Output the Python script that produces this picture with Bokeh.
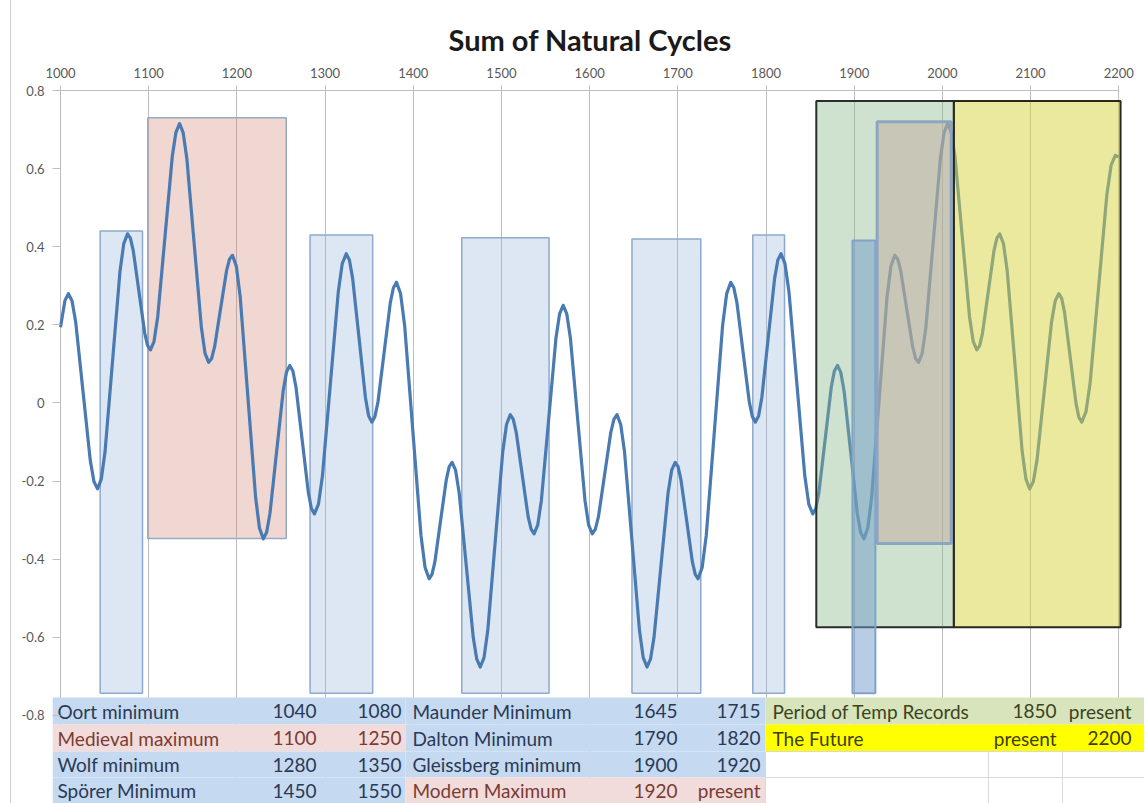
from bokeh.plotting import figure
from bokeh.models import FixedTicker, Range1d
from bokeh.embed import file_html
from bokeh.resources import INLINE
from bokeh.core.properties import value

# ---------------- data ----------------
years = [1000, 1005, 1009, 1013.1, 1017.25, 1025.5, 1033.75, 1037.9, 1042, 1046.25, 1050.5,
         1059, 1067.5, 1071.75, 1076, 1079.25, 1082.5, 1089, 1095.5, 1098.75, 1102, 1106.1,
         1110.25, 1118.5, 1126.75, 1130.9, 1135, 1139.1, 1143.25, 1151.5, 1159.75, 1163.9,
         1168, 1171.4, 1174.75, 1181.5, 1188.25, 1191.6, 1195, 1199.4, 1203.75, 1212.5,
         1221.25, 1225.6, 1230, 1233.75, 1237.5, 1245, 1252.5, 1256.25, 1260, 1263.5, 1267,
         1274, 1281, 1284.5, 1288, 1292.5, 1297, 1306, 1315, 1319.5, 1324, 1327.6, 1331.25,
         1338.5, 1345.75, 1349.4, 1353, 1356.5, 1360, 1367, 1374, 1377.5, 1381, 1385.6,
         1390.25, 1399.5, 1408.75, 1413.4, 1418, 1421.25, 1424.5, 1431, 1437.5, 1440.75,
         1444, 1448, 1452, 1460, 1468, 1472, 1476, 1480.25, 1484.5, 1493, 1501.5, 1505.75,
         1510, 1513.4, 1516.75, 1523.5, 1530.25, 1533.6, 1537, 1541.1, 1545.25, 1553.5,
         1561.75, 1565.9, 1570, 1574.1, 1578.25, 1586.5, 1594.75, 1598.9, 1603, 1606.5,
         1610, 1617, 1624, 1627.5, 1631, 1635.25, 1639.5, 1648, 1656.5, 1660.75, 1665, 1669,
         1673, 1681, 1689, 1693, 1697, 1700.25, 1703.5, 1710, 1716.5, 1719.75, 1723, 1727.6,
         1732.25, 1741.5, 1750.75, 1755.4, 1760, 1763.5, 1767, 1774, 1781, 1784.5, 1788,
         1791.6, 1795.25, 1802.5, 1809.75, 1813.4, 1817, 1821.5, 1826, 1835, 1844, 1848.5,
         1853, 1856.5, 1860, 1867, 1874, 1877.5, 1881, 1884.75, 1888.5, 1896, 1903.5,
         1907.25, 1911, 1915.4, 1919.75, 1928.5, 1937.25, 1941.6, 1946, 1949.4, 1952.75,
         1959.5, 1966.25, 1969.6, 1973, 1977.1, 1981.25, 1989.5, 1997.75, 2001.9, 2006,
         2010.1, 2014.25, 2022.5, 2030.75, 2034.9, 2039, 2042.25, 2045.5, 2052, 2058.5,
         2061.75, 2065, 2069.25, 2073.5, 2082, 2090.5, 2094.75, 2099, 2103.1, 2107.25,
         2115.5, 2123.75, 2127.9, 2132, 2135.25, 2138.5, 2145, 2151.5, 2154.75, 2158,
         2162.75, 2167.5, 2177, 2186.5, 2191.25, 2196, 2200]
cycle_sum = [0.194, 0.262, 0.28, 0.261, 0.207, 0.03, -0.147, -0.201, -0.22, -0.195, -0.125,
             0.107, 0.338, 0.408, 0.433, 0.422, 0.39, 0.285, 0.179, 0.147, 0.136, 0.158,
             0.221, 0.426, 0.631, 0.693, 0.715, 0.692, 0.626, 0.41, 0.193, 0.127,
             0.104, 0.114, 0.144, 0.241, 0.338, 0.368, 0.378, 0.35, 0.272, 0.015,
             -0.242, -0.32, -0.348, -0.331, -0.283, -0.126, 0.031, 0.079, 0.096, 0.082, 0.041,
             -0.094, -0.229, -0.27, -0.284, -0.259, -0.187, 0.049, 0.285, 0.357, 0.382, 0.366, 0.319,
             0.167, 0.014, -0.033, -0.049, -0.035, 0.003, 0.13, 0.257, 0.295, 0.309, 0.28,
             0.198, -0.071, -0.339, -0.421, -0.45, -0.439, -0.407, -0.301, -0.196, -0.163,
             -0.152, -0.172, -0.229, -0.414, -0.6, -0.656, -0.676, -0.652, -0.582, -0.353, -0.124, -0.055,
             -0.03, -0.042, -0.075, -0.183, -0.291, -0.323, -0.335, -0.313, -0.25, -0.043,
             0.165, 0.228, 0.25, 0.228, 0.165, -0.043, -0.25, -0.313, -0.335, -0.323,
             -0.291, -0.183, -0.075, -0.042, -0.03, -0.055, -0.124, -0.353, -0.582, -0.652, -0.676, -0.656,
             -0.6, -0.414, -0.229, -0.172, -0.152, -0.163, -0.196, -0.301, -0.407, -0.439, -0.45, -0.421,
             -0.339, -0.071, 0.198, 0.28, 0.309, 0.295, 0.257, 0.13, 0.003, -0.035, -0.049,
             -0.033, 0.014, 0.167, 0.319, 0.366, 0.382, 0.357, 0.285, 0.049, -0.187, -0.259,
             -0.284, -0.27, -0.229, -0.094, 0.041, 0.082, 0.096, 0.079, 0.031, -0.126, -0.283,
             -0.331, -0.348, -0.32, -0.242, 0.015, 0.272, 0.35, 0.378, 0.368, 0.338,
             0.241, 0.144, 0.114, 0.104, 0.127, 0.193, 0.41, 0.626, 0.692, 0.715,
             0.693, 0.631, 0.426, 0.221, 0.158, 0.136, 0.147, 0.179, 0.285, 0.39,
             0.422, 0.433, 0.408, 0.338, 0.107, -0.125, -0.195, -0.22, -0.201, -0.147,
             0.03, 0.207, 0.261, 0.28, 0.268, 0.232, 0.116, -0.001, -0.037, -0.049,
             -0.023, 0.051, 0.293, 0.534, 0.608, 0.634, 0.63]

# shaded periods as drawn in the picture
box_names = ["Oort minimum", "Medieval maximum", "Wolf minimum", "Spörer Minimum",
             "Maunder Minimum", "Dalton Minimum", "Period of Temp Records",
             "Gleissberg minimum", "Modern Maximum", "The Future"]
box_left = [1045, 1099, 1283, 1455, 1648, 1785, 1857, 1898, 1926, 2013]
box_right = [1093, 1256, 1354, 1554, 1726, 1821, 2013, 1924, 2010, 2202]
box_top = [0.44, 0.73, 0.43, 0.423, 0.42, 0.43, 0.773, 0.416, 0.72, 0.773]
box_bottom = [-0.743, -0.347, -0.743, -0.743, -0.743, -0.743, -0.574, -0.743, -0.36, -0.574]

x_ticks = [1000, 1100, 1200, 1300, 1400, 1500, 1600, 1700, 1800, 1900, 2000, 2100, 2200]
y_ticks = [-0.8, -0.6, -0.4, -0.2, 0, 0.2, 0.4, 0.6, 0.8]
y_tick_labels = ["-0.8", "-0.6", "-0.4", "-0.2", "0", "0.2", "0.4", "0.6", "0.8"]

# table below the chart
t1_names = ["Oort minimum", "Medieval maximum", "Wolf minimum", "Spörer Minimum"]
t1_start = ["1040", "1100", "1280", "1450"]
t1_end = ["1080", "1250", "1350", "1550"]
t2_names = ["Maunder Minimum", "Dalton Minimum", "Gleissberg minimum", "Modern Maximum"]
t2_start = ["1645", "1790", "1900", "1920"]
t2_end = ["1715", "1820", "1920", "present"]
t3_names = ["Period of Temp Records", "The Future"]
t3_start = ["1850", "present"]
t3_end = ["present", "2200"]

# ---------------- styles / layout ----------------
FONT = "Lato"
BLUE_F, BLUE_L = "#8aaed6", "#8eaacb"
box_style = {
    "Oort minimum": dict(fc=BLUE_F, fa=0.3, lc=BLUE_L, lw=1.5, layer=0),
    "Medieval maximum": dict(fc="#cd7a69", fa=0.3, lc="#95aac3", lw=1.5, layer=0),
    "Wolf minimum": dict(fc=BLUE_F, fa=0.3, lc=BLUE_L, lw=1.5, layer=0),
    "Spörer Minimum": dict(fc=BLUE_F, fa=0.3, lc=BLUE_L, lw=1.5, layer=0),
    "Maunder Minimum": dict(fc=BLUE_F, fa=0.3, lc=BLUE_L, lw=1.5, layer=0),
    "Dalton Minimum": dict(fc=BLUE_F, fa=0.3, lc=BLUE_L, lw=1.5, layer=0),
    "Period of Temp Records": dict(fc="#87b687", fa=0.4, lc="#2a2e2a", lw=2, layer=1),
    "Gleissberg minimum": dict(fc="#6f9ccc", fa=0.5, lc="#7fa3c8", lw=2, layer=1),
    "Modern Maximum": dict(fc="#c1aa9f", fa=0.5, lc="#8ca5c3", lw=3, layer=1),
    "The Future": dict(fc="#d5d33d", fa=0.5, lc="#28281e", lw=2, layer=1),
}

K = 0.8819          # px per year
def xd(px):         # page pixel -> year
    return 1000 + (px - 60) / K
def yd(py):         # page pixel -> value
    return 0.8 - (py - 90) / 390.6

HOST_LEFT = 11      # 10px margin + 1px border line of the chart area
W, H = 1145 - HOST_LEFT, 803
p = figure(width=W, height=H, output_backend="svg", toolbar_location=None,
           x_range=Range1d(xd(52), xd(1145)), y_range=Range1d(yd(803), 0.8),
           x_axis_location="above", min_border_left=52 - HOST_LEFT, min_border_right=0,
           min_border_top=90, min_border_bottom=0)
p.styles = {"margin-left": "10px", "border-left": "1px solid #cfcfcf"}
p.outline_line_color = None
p.background_fill_color = "white"
p.border_fill_color = "white"

p.title.text = "Sum of Natural Cycles"
p.title.align = "left"
p.title.offset = 396
p.title.text_font = FONT
p.title.text_font_size = "29px"
p.title.text_font_style = "bold"
p.title.text_color = "#1a1a1a"
p.title.standoff = 16

xa = p.xaxis[0]
xa.ticker = FixedTicker(ticks=x_ticks)
xa.bounds = (1000, 2200)
xa.axis_line_color = "#bfbfbf"
xa.major_tick_line_color = "#bfbfbf"
xa.major_tick_out = 5
xa.major_tick_in = 0
xa.minor_tick_line_color = None
xa.major_label_text_font = FONT
xa.major_label_text_font_size = "13px"
xa.major_label_text_color = "#595959"
xa.major_label_standoff = 8

ya = p.yaxis[0]
ya.ticker = FixedTicker(ticks=y_ticks)
ya.major_label_overrides = dict(zip(y_ticks, y_tick_labels))
ya.axis_line_color = None
ya.major_tick_line_color = "#bfbfbf"
ya.major_tick_in = 8
ya.major_tick_out = 0
ya.minor_tick_line_color = None
ya.major_label_text_font = FONT
ya.major_label_text_font_size = "13px"
ya.major_label_text_color = "#595959"
ya.major_label_standoff = 8

p.xgrid.ticker = FixedTicker(ticks=x_ticks)
p.xgrid.grid_line_color = "#bdbdbd"
p.ygrid.grid_line_color = None

def draw_box(i):
    s = box_style[box_names[i]]
    p.quad(left=[box_left[i]], right=[box_right[i]], top=[box_top[i]], bottom=[box_bottom[i]],
           fill_color=s["fc"], fill_alpha=s["fa"], line_color=s["lc"], line_width=s["lw"])

for i in range(len(box_names)):
    if box_style[box_names[i]]["layer"] == 0:
        draw_box(i)

p.line(years, cycle_sum, line_color="#4a7ab2", line_width=3.2, line_join="round")

for i in range(len(box_names)):
    if box_style[box_names[i]]["layer"] == 1:
        draw_box(i)

# ---------------- table ----------------
row_edges = [697, 724, 751, 777, 803]
row_fill = {"min": "#c5d9f1", "max": "#f2dcdb", "rec": "#d8e4bc", "fut": "#ffff00", "": "white"}
row_text = {"min": "#2a3a55", "max": "#7a3b33", "rec": "#3b4320", "fut": "#3d3d00", "": "#000000"}
groups = [
    dict(x0=52, x1=405, nx=57, sx=316, ex=401, kinds=["min", "max", "min", "min"],
         names=t1_names, start=t1_start, end=t1_end),
    dict(x0=405, x1=765, nx=412, sx=677, ex=760, kinds=["min", "min", "min", "max"],
         names=t2_names, start=t2_start, end=t2_end),
    dict(x0=765, x1=1145, nx=772, sx=1056, ex=1131, kinds=["rec", "fut", "", ""],
         names=t3_names, start=t3_start, end=t3_end),
]
for g in groups:
    for r, kind in enumerate(g["kinds"]):
        p.quad(left=[xd(g["x0"])], right=[xd(g["x1"])], top=[yd(row_edges[r])],
               bottom=[yd(row_edges[r + 1])], fill_color=row_fill[kind], line_color=None)
# light cell borders of the empty cells
p.segment(x0=[xd(765), xd(765), xd(765), xd(988), xd(1062)],
          y0=[yd(751), yd(777), yd(751), yd(751), yd(751)],
          x1=[xd(1145), xd(1145), xd(765), xd(988), xd(1062)],
          y1=[yd(751), yd(777), yd(803), yd(803), yd(803)],
          line_color="#d9d9d9", line_width=1)

for g in groups:
    n = len(g["names"])
    ys = [yd((row_edges[r] + row_edges[r + 1]) / 2) for r in range(n)]
    cols = [row_text[k] for k in g["kinds"][:n]]
    common = dict(text_font=value(FONT), text_font_size="19px", text_baseline="middle")
    p.text(x=[xd(g["nx"])] * n, y=ys, text=g["names"], text_color=cols, text_align="left", **common)
    p.text(x=[xd(g["sx"])] * n, y=ys, text=g["start"], text_color=cols, text_align="right", **common)
    p.text(x=[xd(g["ex"])] * n, y=ys, text=g["end"], text_color=cols, text_align="right", **common)

open("out.html", "w").write(file_html(p, INLINE))
